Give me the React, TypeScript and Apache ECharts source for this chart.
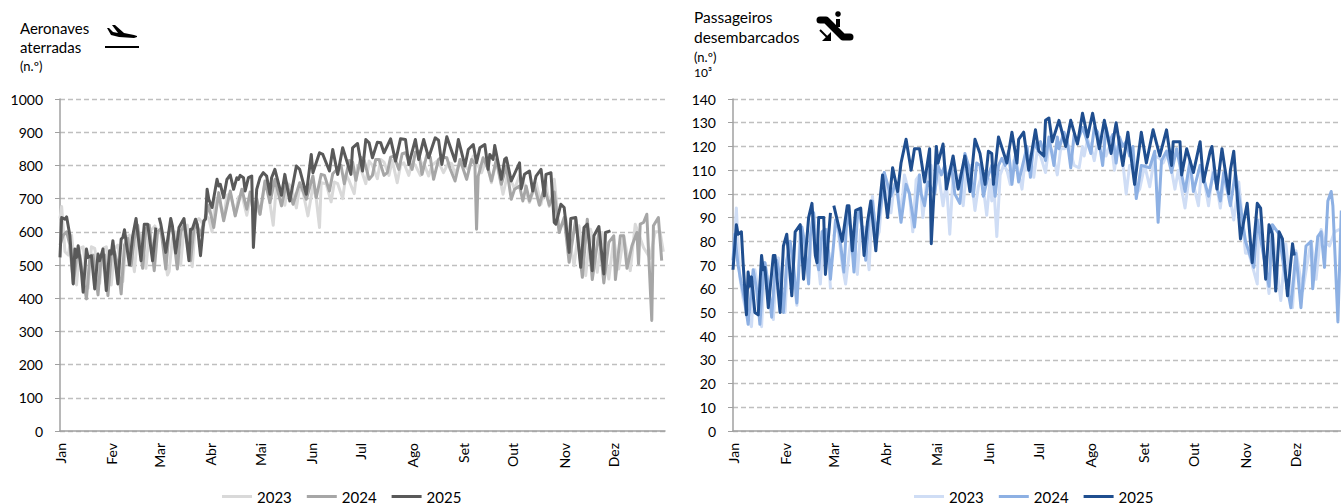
import React, { useEffect, useRef } from "react";
import * as echarts from "echarts";

const months = ["Jan","Fev","Mar","Abr","Mai","Jun","Jul","Ago","Set","Out","Nov","Dez"];
const monthStarts = [0,31,60,91,121,152,182,213,244,274,305,335];
const years = ["2023","2024","2025"];

const planes2023 = [[0,640],[1,676],[3,540],[5,530],[7,590],[10,440],[12,550],[14,555],[17,430],[19,555],[21,550],[24,445],[26,550],[28,555],[31,440],[33,550],[35,560],[38,450],[40,580],[42,590],[45,480],[47,600],[49,590],[52,490],[54,600],[56,610],[58,620],[59,null],[60,600],[62,590],[65,470],[66,480],[68,580],[70,600],[73,500],[75,610],[77,620],[80,495],[82,630],[84,640],[87,620],[88,650],[90,640],[92,600],[94,700],[96,700],[99,640],[101,710],[103,715],[106,650],[108,705],[110,712],[113,650],[115,700],[117,690],[121,653],[124,748],[126,720],[129,620],[131,748],[133,735],[136,680],[138,745],[140,735],[143,672],[145,735],[147,720],[150,648],[153,738],[155,700],[157,613],[158,748],[161,745],[164,690],[166,750],[168,745],[171,700],[173,773],[175,753],[178,715],[180,800],[182,790],[185,745],[187,813],[189,800],[192,760],[194,818],[196,810],[199,770],[201,815],[204,748],[206,800],[208,808],[211,770],[213,810],[215,800],[218,770],[220,808],[223,768],[225,800],[228,813],[230,800],[232,778],[235,808],[237,805],[239,775],[242,808],[247,788],[250,828],[255,778],[258,820],[261,748],[264,813],[268,713],[271,778],[275,728],[278,770],[280,758],[284,688],[288,748],[291,683],[294,750],[296,676],[299,758],[302,608],[306,643],[311,498],[314,618],[318,468],[321,608],[325,478],[328,598],[332,458],[335,578],[338,488],[341,588],[345,483],[348,623],[353,553],[357,520],[360,600],[363,600],[365,540]];
const planes2024 = [[0,560],[2,590],[4,600],[6,560],[8,445],[10,520],[12,530],[14,460],[16,398],[18,520],[20,530],[23,410],[25,530],[27,530],[29,408],[31,530],[33,540],[35,500],[37,413],[39,560],[41,580],[43,498],[45,580],[47,620],[50,490],[52,610],[54,620],[57,483],[59,600],[61,610],[64,488],[66,600],[68,610],[71,488],[73,600],[75,620],[79,513],[81,610],[83,620],[85,590],[87,630],[88,640],[90,680],[93,613],[96,718],[99,633],[103,723],[106,648],[110,728],[113,668],[115,720],[117,658],[119,700],[121,653],[124,753],[127,688],[130,758],[134,678],[137,748],[141,683],[145,748],[149,698],[153,768],[155,703],[158,773],[160,770],[163,723],[165,775],[168,790],[170,800],[172,745],[175,815],[177,810],[179,755],[182,825],[184,815],[187,758],[189,770],[191,818],[193,818],[196,770],[198,778],[200,825],[202,828],[205,788],[207,835],[209,838],[213,788],[215,840],[217,843],[219,773],[222,833],[224,825],[226,758],[229,818],[231,825],[234,823],[236,790],[239,753],[242,818],[246,758],[249,818],[251,803],[252,608],[253,768],[256,823],[259,788],[261,753],[264,818],[267,743],[270,798],[273,698],[275,728],[278,738],[280,693],[282,738],[284,693],[287,738],[290,680],[293,733],[296,680],[299,720],[302,598],[305,643],[308,508],[312,638],[316,463],[319,638],[322,456],[326,598],[329,446],[332,568],[335,588],[336,456],[339,588],[341,588],[343,490],[346,558],[349,598],[350,503],[351,623],[353,628],[355,653],[358,333],[359,618],[362,643],[364,513]];
const planes2025 = [[0,523],[1,643],[3,638],[4,645],[6,588],[8,443],[9,548],[10,523],[11,558],[13,478],[14,418],[16,548],[17,523],[19,528],[21,428],[23,533],[24,513],[26,548],[28,423],[30,543],[31,533],[32,573],[35,443],[37,578],[38,583],[39,606],[42,500],[44,588],[46,640],[49,513],[51,623],[53,623],[56,513],[58,613],[59,null],[60,643],[61,623],[64,538],[67,640],[68,618],[70,536],[72,613],[75,640],[78,513],[79,608],[80,608],[82,638],[83,623],[85,528],[87,633],[88,638],[89,728],[90,698],[92,673],[95,758],[96,738],[97,743],[99,703],[101,758],[103,771],[105,728],[107,763],[108,758],[109,770],[111,763],[112,723],[114,763],[116,768],[117,553],[119,728],[121,763],[123,778],[125,768],[127,713],[128,763],[130,788],[134,710],[136,773],[139,693],[143,798],[145,788],[149,713],[151,793],[152,833],[153,778],[157,838],[159,833],[163,783],[165,848],[168,773],[171,853],[176,773],[177,853],[180,866],[183,783],[185,878],[187,868],[189,823],[192,870],[194,868],[196,838],[200,880],[203,813],[206,880],[209,878],[211,803],[215,878],[217,818],[220,878],[223,823],[227,883],[229,876],[231,803],[234,886],[239,813],[241,878],[245,798],[247,848],[250,863],[252,808],[254,853],[257,863],[259,788],[260,833],[262,818],[263,860],[267,758],[269,818],[270,823],[273,753],[278,808],[279,730],[281,773],[284,783],[286,723],[288,768],[291,788],[293,708],[294,773],[297,778],[299,628],[300,623],[303,683],[305,673],[308,538],[309,640],[312,643],[315,493],[317,613],[319,623],[322,483],[323,588],[326,616],[329,473],[330,598],[333,603]];

const pax2023 = [[0,70],[2,94],[4,65],[6,56],[8,50],[11,44],[13,68],[15,60],[17,44],[19,71],[21,60],[24,47],[26,70],[27,73],[29,60],[31,50],[33,79],[35,70],[38,53],[40,85],[42,80],[45,64],[47,88],[48,92],[50,75],[52,62],[54,85],[56,85],[58,60],[59,null],[60,82],[62,88],[65,70],[67,62],[70,80],[72,85],[74,66],[76,85],[78,86],[81,68],[83,99],[85,80],[87,84],[90,109],[92,100],[94,92],[96,104],[98,103],[100,90],[102,108],[105,100],[107,84],[109,106],[111,108],[113,90],[116,110],[118,112],[120,100],[122,110],[125,95],[127,105],[129,83],[131,108],[133,103],[135,108],[137,95],[139,110],[141,112],[144,93],[146,103],[148,108],[151,91],[153,106],[154,97],[155,106],[157,82],[159,108],[161,112],[163,110],[165,104],[167,114],[169,112],[172,102],[174,115],[175,110],[177,116],[179,107],[181,118],[183,116],[186,109],[188,120],[190,118],[193,108],[195,119],[197,119],[200,120],[203,112],[206,111],[208,120],[209,116],[211,123],[213,120],[215,114],[217,122],[218,120],[220,124],[222,116],[225,122],[227,110],[229,120],[230,118],[232,113],[234,100],[236,112],[238,112],[240,100],[242,102],[245,112],[248,103],[251,116],[254,115],[256,113],[259,118],[263,102],[265,110],[269,94],[272,110],[277,95],[279,112],[283,95],[286,112],[290,94],[293,110],[298,89],[301,105],[305,75],[307,75],[312,62],[313,89],[319,58],[321,84],[326,55],[329,79],[333,52],[335,76],[339,59],[344,80],[347,64],[350,85],[352,80],[355,78],[358,84],[361,85]];
const pax2024 = [[0,72],[1,83],[3,70],[5,62],[7,55],[9,45],[11,60],[12,68],[14,60],[16,45],[18,66],[19,71],[21,62],[23,48],[25,68],[26,72],[28,65],[30,50],[32,72],[34,80],[36,70],[38,54],[40,78],[41,86],[43,78],[45,62],[46,82],[48,92],[49,75],[51,68],[53,84],[55,85],[57,75],[58,64],[60,80],[61,89],[63,85],[66,67],[68,93],[70,85],[72,67],[74,90],[75,93],[77,85],[79,72],[81,90],[83,97],[85,84],[87,90],[89,100],[90,109],[92,104],[94,99],[97,105],[100,88],[103,104],[105,100],[108,86],[111,108],[112,100],[114,95],[116,105],[120,100],[122,112],[124,108],[126,112],[127,106],[130,112],[132,100],[135,96],[138,117],[141,110],[143,99],[145,113],[147,112],[149,99],[152,108],[154,112],[156,99],[158,112],[160,115],[162,112],[164,118],[166,104],[168,116],[170,105],[173,114],[175,120],[177,107],[179,122],[181,119],[183,122],[186,114],[188,124],[191,112],[193,124],[194,119],[197,126],[199,122],[201,111],[203,125],[205,122],[208,128],[210,124],[213,117],[215,128],[217,126],[220,112],[222,128],[224,122],[226,125],[228,113],[230,124],[232,120],[234,122],[236,116],[238,120],[240,98],[243,112],[248,111],[251,118],[253,88],[255,114],[258,118],[261,109],[264,119],[269,101],[272,114],[274,101],[278,112],[283,99],[286,109],[290,97],[292,109],[296,95],[299,109],[305,80],[310,69],[312,89],[319,61],[321,87],[325,83],[328,68],[332,52],[335,75],[338,52],[341,78],[344,80],[345,60],[348,82],[350,84],[352,69],[354,97],[356,101],[357,95],[360,46],[362,93]];
const pax2025 = [[0,68],[2,87],[3,83],[5,84],[6,71],[8,49],[9,67],[10,61],[11,65],[13,50],[15,49],[17,74],[18,68],[19,69],[21,52],[24,74],[25,74],[28,50],[30,78],[32,83],[35,57],[37,84],[40,87],[42,64],[45,90],[47,96],[49,74],[50,71],[51,90],[54,90],[55,66],[58,92],[59,null],[60,95],[65,80],[68,95],[69,95],[71,76],[73,93],[76,94],[78,74],[80,88],[82,97],[85,76],[87,94],[89,108],[92,90],[95,111],[98,101],[100,113],[103,123],[106,110],[108,119],[111,119],[114,105],[117,119],[118,79],[120,106],[121,120],[122,113],[125,121],[127,102],[131,116],[134,102],[138,116],[141,101],[144,123],[147,117],[150,104],[152,118],[154,117],[155,104],[158,124],[163,113],[166,126],[169,113],[170,123],[173,126],[176,110],[180,127],[182,118],[185,116],[186,131],[188,132],[190,122],[194,131],[198,120],[201,131],[205,121],[208,134],[211,124],[214,134],[218,119],[221,131],[225,117],[228,130],[232,112],[235,126],[239,104],[243,126],[246,113],[250,127],[254,116],[258,127],[261,112],[262,122],[266,122],[267,108],[270,119],[274,109],[278,122],[280,105],[284,118],[285,120],[288,102],[291,119],[295,100],[296,110],[298,118],[302,81],[306,96],[309,71],[312,96],[314,94],[317,64],[319,87],[321,83],[323,59],[325,84],[327,81],[330,57],[333,79],[334,74]];

const FONT = "Lato";
const txt = (text: string, x: number, y: number, size: number) => ({
  type: "text", x, y, style: { text, font: `${size}px ${FONT}`, fill: "#000", textVerticalAlign: "middle" },
});

function makeOption(o: any) {
  return {
    animation: false,
    grid: { left: o.gridLeft, top: 99, width: o.gridWidth, height: 332, outerBoundsMode: "none" },
    legend: {
      left: o.legendLeft, top: 489, padding: 0, itemWidth: 30, itemHeight: 3, itemGap: 15, icon: "rect",
      data: years, textStyle: { fontFamily: FONT, fontSize: 15, color: "#000" },
    },
    xAxis: {
      type: "value", min: 0, max: 366, splitLine: { show: false },
      axisLine: { onZero: false, lineStyle: { color: "#A0A0A0", width: 1.5 } },
      axisTick: { show: false },
      axisLabel: {
        customValues: monthStarts, rotate: 90, margin: 12, hideOverlap: false,
        fontFamily: FONT, fontSize: 14, color: "#000",
        formatter: (v: number) => months[monthStarts.indexOf(v)] ?? "",
      },
    },
    yAxis: {
      type: "value", min: 0, max: o.yMax, interval: o.yStep,
      axisLine: { show: true, lineStyle: { color: "#A0A0A0", width: 1.5 } },
      axisTick: { show: true, length: 5, lineStyle: { color: "#A0A0A0" } },
      axisLabel: { margin: 17, fontFamily: FONT, fontSize: 14, color: "#000", formatter: (v: number) => String(v) },
      splitLine: { show: true, lineStyle: { color: "#BFBFBF", type: [5, 3], width: 1.3 } },
    },
    series: o.data.map((d: any, i: number) => ({
      name: years[i], type: "line", data: d, showSymbol: false, connectNulls: false,
      lineStyle: { color: o.colors[i], width: 3, join: "round" }, itemStyle: { color: o.colors[i] },
    })),
    graphic: o.graphic,
  };
}

const leftGraphic = [
  txt("Aeronaves", 20, 28, 15), txt("aterradas", 20, 47, 15), txt("(n.º)", 20, 66, 13),
  { type: "polygon", shape: { points: [[107,28],[109,28],[113,32],[118,33],[112,25],[115,25],[124,33],[134,35],[137,36],[137,37],[134,38],[119,37],[111,35]] }, style: { fill: "#000" } },
  { type: "line", shape: { x1: 105, y1: 47, x2: 139, y2: 47 }, style: { stroke: "#000", lineWidth: 2 } },
];
const rightGraphic = [
  txt("Passageiros", 24, 17, 15.5), txt("desembarcados", 24, 37, 15.5), txt("(n.º)", 24, 57, 13), txt("10³", 24, 72, 12),
  { type: "polyline", shape: { points: [[150,20],[156,20],[173,37],[180,37]] }, style: { stroke: "#000", lineWidth: 7, lineCap: "round", lineJoin: "round", fill: "none" } },
  { type: "circle", shape: { cx: 168, cy: 14, r: 2.8 }, style: { fill: "#000" } },
  { type: "rect", shape: { x: 166, y: 19, width: 4, height: 8 }, style: { fill: "#000" } },
  { type: "line", shape: { x1: 150, y1: 30, x2: 158, y2: 38 }, style: { stroke: "#000", lineWidth: 2 } },
  { type: "polygon", shape: { points: [[161,41],[152,41],[161,32]] }, style: { fill: "#000" } },
];

const leftOption = makeOption({
  gridLeft: 60, gridWidth: 605, yMax: 1000, yStep: 100, legendLeft: 222,
  data: [planes2023, planes2024, planes2025], colors: ["#D9D9D9", "#A6A6A6", "#595959"], graphic: leftGraphic,
});
const rightOption = makeOption({
  gridLeft: 63, gridWidth: 615, yMax: 140, yStep: 10, legendLeft: 244,
  data: [pax2023, pax2024, pax2025], colors: ["#CFDDF5", "#8DB0E3", "#1F4E8F"], graphic: rightGraphic,
});

function Chart({ option, left, width }: any) {
  const ref = useRef<HTMLDivElement>(null);
  useEffect(() => {
    const c = echarts.init(ref.current!, undefined, { renderer: "svg" });
    c.setOption(option);
    return () => c.dispose();
  }, [option]);
  return <div ref={ref} style={{ position: "absolute", left, top: 0, width, height: 504 }} />;
}

export default function App() {
  return (
    <div style={{ position: "absolute", left: 0, top: 0, width: 1341, height: 504, overflow: "hidden", background: "#fff" }}>
      <Chart option={leftOption} left={0} width={670} />
      <Chart option={rightOption} left={670} width={720} />
    </div>
  );
}
